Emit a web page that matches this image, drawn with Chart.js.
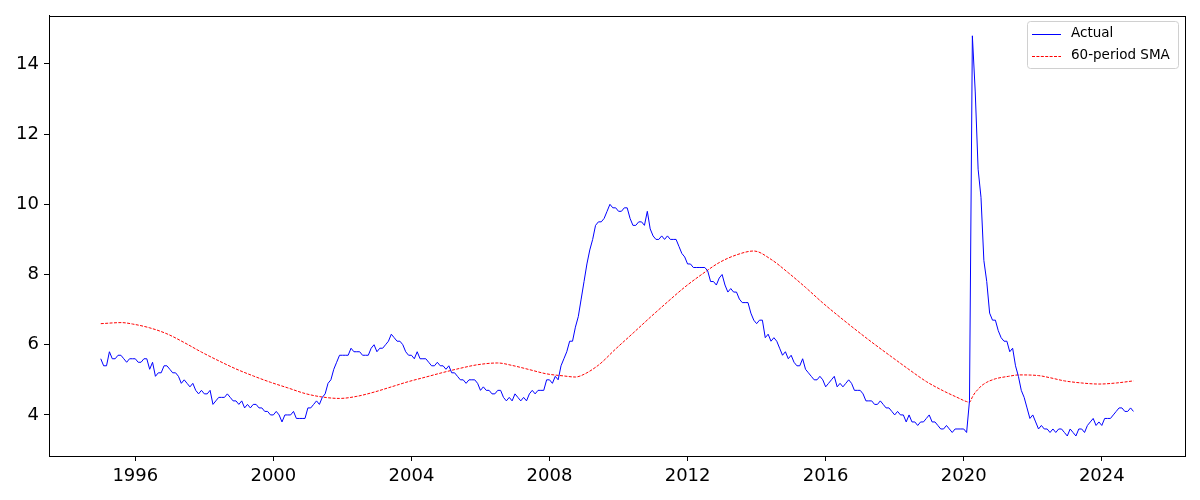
<!DOCTYPE html>
<html>
<head>
<meta charset="utf-8">
<script src="https://cdn.jsdelivr.net/npm/chart.js@4.4.1/dist/chart.umd.min.js"></script>
<style>
  html, body { margin: 0; padding: 0; background: #fff; }
  #wrap { width: 1200px; height: 500px; position: relative; }
</style>
</head>
<body>
<div id="wrap"><canvas id="chart" width="1200" height="500"></canvas></div>
<script>
/* ---------- Data (monthly, Jan 1995 .. Dec 2024) ---------- */
const startYear = 1995;
const actual = [
  5.6, 5.4, 5.4, 5.8, 5.6, 5.6, 5.7, 5.7, 5.6, 5.5, 5.6, 5.6,   // 1995
  5.6, 5.5, 5.5, 5.6, 5.6, 5.3, 5.5, 5.1, 5.2, 5.2, 5.4, 5.4,   // 1996
  5.3, 5.2, 5.2, 5.1, 4.9, 5.0, 4.9, 4.8, 4.9, 4.7, 4.6, 4.7,   // 1997
  4.6, 4.6, 4.7, 4.3, 4.4, 4.5, 4.5, 4.5, 4.6, 4.5, 4.4, 4.4,   // 1998
  4.3, 4.4, 4.2, 4.3, 4.2, 4.3, 4.3, 4.2, 4.2, 4.1, 4.1, 4.0,   // 1999
  4.0, 4.1, 4.0, 3.8, 4.0, 4.0, 4.0, 4.1, 3.9, 3.9, 3.9, 3.9,   // 2000
  4.2, 4.2, 4.3, 4.4, 4.3, 4.5, 4.6, 4.9, 5.0, 5.3, 5.5, 5.7,   // 2001
  5.7, 5.7, 5.7, 5.9, 5.8, 5.8, 5.8, 5.7, 5.7, 5.7, 5.9, 6.0,   // 2002
  5.8, 5.9, 5.9, 6.0, 6.1, 6.3, 6.2, 6.1, 6.1, 6.0, 5.8, 5.7,   // 2003
  5.7, 5.6, 5.8, 5.6, 5.6, 5.6, 5.5, 5.4, 5.4, 5.5, 5.4, 5.4,   // 2004
  5.3, 5.4, 5.2, 5.2, 5.1, 5.0, 5.0, 4.9, 5.0, 5.0, 5.0, 4.9,   // 2005
  4.7, 4.8, 4.7, 4.7, 4.6, 4.6, 4.7, 4.7, 4.5, 4.4, 4.5, 4.4,   // 2006
  4.6, 4.5, 4.4, 4.5, 4.4, 4.6, 4.7, 4.6, 4.7, 4.7, 4.7, 5.0,   // 2007
  5.0, 4.9, 5.1, 5.0, 5.4, 5.6, 5.8, 6.1, 6.1, 6.5, 6.8, 7.3,   // 2008
  7.8, 8.3, 8.7, 9.0, 9.4, 9.5, 9.5, 9.6, 9.8, 10.0, 9.9, 9.9,  // 2009
  9.8, 9.8, 9.9, 9.9, 9.6, 9.4, 9.4, 9.5, 9.5, 9.4, 9.8, 9.3,   // 2010
  9.1, 9.0, 9.0, 9.1, 9.0, 9.1, 9.0, 9.0, 9.0, 8.8, 8.6, 8.5,   // 2011
  8.3, 8.3, 8.2, 8.2, 8.2, 8.2, 8.2, 8.1, 7.8, 7.8, 7.7, 7.9,   // 2012
  8.0, 7.7, 7.5, 7.6, 7.5, 7.5, 7.3, 7.2, 7.2, 7.2, 6.9, 6.7,   // 2013
  6.6, 6.7, 6.7, 6.2, 6.3, 6.1, 6.2, 6.1, 5.9, 5.7, 5.8, 5.6,   // 2014
  5.7, 5.5, 5.4, 5.4, 5.6, 5.3, 5.2, 5.1, 5.0, 5.0, 5.1, 5.0,   // 2015
  4.8, 4.9, 5.0, 5.1, 4.8, 4.9, 4.8, 4.9, 5.0, 4.9, 4.7, 4.7,   // 2016
  4.7, 4.6, 4.4, 4.4, 4.4, 4.3, 4.3, 4.4, 4.3, 4.2, 4.2, 4.1,   // 2017
  4.0, 4.1, 4.0, 4.0, 3.8, 4.0, 3.8, 3.8, 3.7, 3.8, 3.8, 3.9,   // 2018
  4.0, 3.8, 3.8, 3.7, 3.6, 3.6, 3.7, 3.6, 3.5, 3.6, 3.6, 3.6,   // 2019
  3.6, 3.5, 4.4, 14.8, 13.2, 11.0, 10.2, 8.4, 7.8, 6.9, 6.7, 6.7, // 2020
  6.4, 6.2, 6.1, 6.1, 5.8, 5.9, 5.4, 5.1, 4.7, 4.5, 4.2, 3.9,   // 2021
  4.0, 3.8, 3.6, 3.7, 3.6, 3.6, 3.5, 3.6, 3.5, 3.6, 3.6, 3.5,   // 2022
  3.4, 3.6, 3.5, 3.4, 3.6, 3.6, 3.5, 3.7, 3.8, 3.9, 3.7, 3.8,   // 2023
  3.7, 3.9, 3.9, 3.9, 4.0, 4.1, 4.2, 4.2, 4.1, 4.1, 4.2, 4.1    // 2024
];

// 60-period SMA (decimal year -> value)
const smaDates = [
  1995.0, 1995.6, 1995.917, 1996.42, 1996.917, 1997.42, 1997.917, 1998.42, 1998.917,
  1999.42, 1999.917, 2000.42, 2000.917, 2001.42, 2001.917, 2002.42, 2002.917,
  2003.42, 2003.917, 2004.42, 2004.917, 2005.42, 2005.917, 2006.5, 2006.917,
  2007.42, 2007.917, 2008.42, 2008.75, 2008.917, 2009.42, 2009.917, 2010.42,
  2010.917, 2011.42, 2011.917, 2012.42, 2012.917, 2013.42, 2013.917, 2014.42,
  2014.917, 2015.42, 2015.917, 2016.42, 2016.917, 2017.42, 2017.917, 2018.42,
  2018.917, 2019.42, 2019.917, 2020.0, 2020.083, 2020.167, 2020.25, 2020.333,
  2020.417, 2020.5, 2020.583, 2020.667, 2020.75, 2020.833, 2020.917, 2021.3,
  2021.6, 2022.17, 2022.5, 2022.917, 2023.42, 2023.917, 2024.42, 2024.917
];
const smaValues = [
  6.60, 6.63, 6.59, 6.48, 6.31, 6.06, 5.79, 5.54, 5.31,
  5.11, 4.93, 4.77, 4.61, 4.51, 4.47, 4.53, 4.65,
  4.80, 4.95, 5.08, 5.21, 5.33, 5.43, 5.48, 5.41,
  5.29, 5.17, 5.11, 5.08, 5.12, 5.42, 5.88, 6.33,
  6.78, 7.22, 7.64, 8.01, 8.34, 8.56, 8.67, 8.43,
  8.05, 7.63, 7.19, 6.78, 6.39, 6.01, 5.65, 5.29,
  4.95, 4.68, 4.45, 4.41, 4.38, 4.36, 4.51, 4.64,
  4.73, 4.82, 4.88, 4.93, 4.97, 5.00, 5.03, 5.10,
  5.14, 5.12, 5.06, 4.97, 4.91, 4.88, 4.91, 4.97
];

const xTicks = [1996, 2000, 2004, 2008, 2012, 2016, 2020, 2024];
const yTicks = [4, 6, 8, 10, 12, 14];
const seriesNames = ["Actual", "60-period SMA"];

const actualPts = actual.map((v, i) => ({ x: startYear + i / 12, y: v }));
const smaPts = smaDates.map((d, i) => ({ x: d, y: smaValues[i] }));

const FONT = "'DejaVu Sans', sans-serif";

/* ---------- Plugins ---------- */
const framePlugin = {
  id: "frame",
  afterDatasetsDraw(chart) {
    const { ctx, chartArea: a } = chart;
    ctx.save();
    ctx.strokeStyle = "#000";
    ctx.lineWidth = 1;
    ctx.strokeRect(Math.round(a.left) + 0.5, Math.round(a.top) + 0.5,
                   Math.round(a.right - a.left), Math.round(a.bottom - a.top));
    ctx.restore();
  }
};

const legendPlugin = {
  id: "boxLegend",
  afterDraw(chart) {
    const { ctx } = chart;
    const x0 = 1027, y0 = 21, w = 151, h = 47, r = 3;
    ctx.save();
    ctx.fillStyle = "rgba(255,255,255,0.8)";
    ctx.strokeStyle = "#d0d0d0";
    ctx.lineWidth = 1;
    ctx.beginPath();
    ctx.roundRect(x0 + 0.5, y0 + 0.5, w, h, r);
    ctx.fill();
    ctx.stroke();

    const ds = chart.data.datasets;
    const lineRows = [34, 56];
    const textRows = [33.5, 55];
    ctx.font = "13.5px " + FONT;
    ctx.textBaseline = "middle";
    ds.forEach((d, i) => {
      ctx.strokeStyle = d.borderColor;
      ctx.lineWidth = d.borderWidth;
      ctx.setLineDash(d.borderDash || []);
      ctx.beginPath();
      ctx.moveTo(1032, lineRows[i] + 0.5);
      ctx.lineTo(1061, lineRows[i] + 0.5);
      ctx.stroke();
      ctx.setLineDash([]);
      ctx.fillStyle = "#000";
      ctx.fillText(d.label, 1071, textRows[i]);
    });
    ctx.restore();
  }
};

/* ---------- Chart ---------- */
new Chart(document.getElementById("chart"), {
  type: "line",
  data: {
    datasets: [
      { label: seriesNames[0], data: actualPts, borderColor: "#0000ff", borderWidth: 1,
        pointRadius: 0, tension: 0, fill: false },
      { label: seriesNames[1], data: smaPts, borderColor: "#ff0000", borderWidth: 1,
        borderDash: [3, 1.4], pointRadius: 0, cubicInterpolationMode: "monotone", fill: false }
    ]
  },
  options: {
    responsive: false,
    animation: false,
    events: [],
    layout: { padding: { top: 15, right: 15, left: 0, bottom: 0 } },
    plugins: { legend: { display: false }, tooltip: { enabled: false } },
    scales: {
      x: {
        type: "linear",
        min: 1993.5,
        max: 2026.41,
        afterBuildTicks: s => { s.ticks = xTicks.map(v => ({ value: v })); },
        afterFit: s => { s.height = 44; },
        grid: { display: true, drawOnChartArea: false, drawTicks: true, tickLength: 5, color: "#000" },
        border: { display: true, color: "#000", width: 1 },
        ticks: { color: "#000", font: { family: FONT, size: 18 }, padding: 5, maxRotation: 0,
                 callback: v => String(v) }
      },
      y: {
        type: "linear",
        min: 2.83,
        max: 15.37,
        afterBuildTicks: s => { s.ticks = yTicks.map(v => ({ value: v })); },
        afterFit: s => { s.width = 49; },
        grid: { display: true, drawOnChartArea: false, drawTicks: true, tickLength: 5, color: "#000" },
        border: { display: true, color: "#000", width: 1 },
        ticks: { color: "#000", font: { family: FONT, size: 18 }, padding: 5,
                 callback: v => String(v) }
      }
    }
  },
  plugins: [framePlugin, legendPlugin]
});
</script>
</body>
</html>
